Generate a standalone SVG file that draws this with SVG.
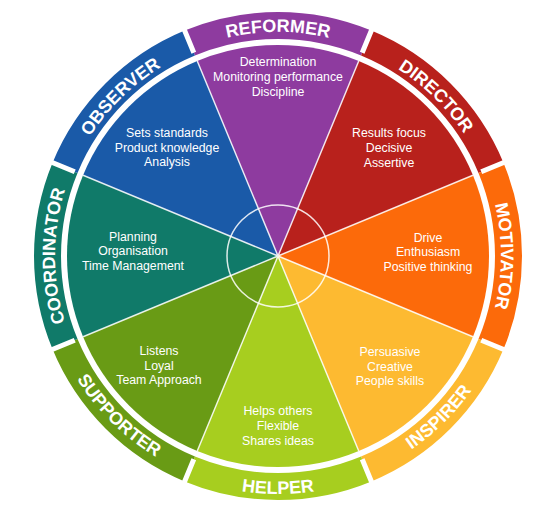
<svg xmlns="http://www.w3.org/2000/svg" width="537" height="519" viewBox="0 0 537 519">
  <style>
    .lbl { font-family: "Liberation Sans", Arial, sans-serif; font-size: 18px; font-weight: bold; fill: #ffffff; }
    .txt { font-family: "Liberation Sans", Arial, sans-serif; font-size: 12.3px; fill: #ffffff; text-anchor: middle; }
    .sep { stroke: #ffffff; stroke-width: 1.5; stroke-opacity: 0.85; fill: none; }
    .gap { stroke: #ffffff; stroke-width: 5; fill: none; }
  </style>
  <defs>
    <path id="p-reformer" d="M192.28 49.05 A223 223 0 0 1 363.72 49.05" transform="translate(0,0)"/>
    <path id="p-director" d="M360.47 50.02 A223 223 0 0 1 484.03 170.66"/>
    <path id="p-motivator" d="M484.03 170.66 A223 223 0 0 1 484.03 341.34"/>
    <path id="p-inspirer" d="M367.78 473.11 A238 238 0 0 0 495.89 347.08"/>
    <path id="p-helper" d="M186.92 475.89 A238 238 0 0 0 369.08 475.89"/>
    <path id="p-supporter" d="M60.11 347.08 A238 238 0 0 0 188.22 473.11"/>
    <path id="p-coordinator" d="M71.97 341.34 A223 223 0 0 1 71.97 170.66"/>
    <path id="p-observer" d="M71.97 170.66 A223 223 0 0 1 195.53 50.02"/>
  </defs>
  <rect width="537" height="519" fill="#ffffff"/>

  <g id="reformer">
    <path d="M278 256 L197.25 61.06 A211 211 0 0 1 358.75 61.06 Z" fill="#8E3B9F"/>
    <path d="M184.63 30.57 A244 244 0 0 1 371.37 30.57 L361.04 55.52 A217 217 0 0 0 194.96 55.52 Z" fill="#8E3B9F"/>
    <text class="lbl"><textPath href="#p-reformer" startOffset="50%" text-anchor="middle">REFORMER</textPath></text>
    <text class="txt" x="278" y="66">Determination</text>
    <text class="txt" x="278" y="81">Monitoring performance</text>
    <text class="txt" x="278" y="96">Discipline</text>
  </g>
  <g id="director">
    <path d="M278 256 L358.75 61.06 A211 211 0 0 1 472.94 175.25 Z" fill="#B8211C"/>
    <path d="M371.37 30.57 A244 244 0 0 1 503.43 162.63 L478.48 172.96 A217 217 0 0 0 361.04 55.52 Z" fill="#B8211C"/>
    <text class="lbl"><textPath href="#p-director" startOffset="50%" text-anchor="middle">DIRECTOR</textPath></text>
    <text class="txt" x="389" y="136.5">Results focus</text>
    <text class="txt" x="389" y="151.5">Decisive</text>
    <text class="txt" x="389" y="166.5">Assertive</text>
  </g>
  <g id="motivator">
    <path d="M278 256 L472.94 175.25 A211 211 0 0 1 472.94 336.75 Z" fill="#FC6A0A"/>
    <path d="M503.43 162.63 A244 244 0 0 1 503.43 349.37 L478.48 339.04 A217 217 0 0 0 478.48 172.96 Z" fill="#FC6A0A"/>
    <text class="lbl"><textPath href="#p-motivator" startOffset="50%" text-anchor="middle">MOTIVATOR</textPath></text>
    <text class="txt" x="428" y="241.5">Drive</text>
    <text class="txt" x="428" y="256">Enthusiasm</text>
    <text class="txt" x="428" y="270.5">Positive thinking</text>
  </g>
  <g id="inspirer">
    <path d="M278 256 L472.94 336.75 A211 211 0 0 1 358.75 450.94 Z" fill="#FDBA31"/>
    <path d="M503.43 349.37 A244 244 0 0 1 371.37 481.43 L361.04 456.48 A217 217 0 0 0 478.48 339.04 Z" fill="#FDBA31"/>
    <text class="lbl"><textPath href="#p-inspirer" startOffset="50%" text-anchor="middle">INSPIRER</textPath></text>
    <text class="txt" x="390" y="355.5">Persuasive</text>
    <text class="txt" x="390" y="370.5">Creative</text>
    <text class="txt" x="390" y="385">People skills</text>
  </g>
  <g id="helper">
    <path d="M278 256 L358.75 450.94 A211 211 0 0 1 197.25 450.94 Z" fill="#A7CE1F"/>
    <path d="M371.37 481.43 A244 244 0 0 1 184.63 481.43 L194.96 456.48 A217 217 0 0 0 361.04 456.48 Z" fill="#A7CE1F"/>
    <text class="lbl"><textPath href="#p-helper" startOffset="50%" text-anchor="middle">HELPER</textPath></text>
    <text class="txt" x="278" y="414.5">Helps others</text>
    <text class="txt" x="278" y="429.5">Flexible</text>
    <text class="txt" x="278" y="444.5">Shares ideas</text>
  </g>
  <g id="supporter">
    <path d="M278 256 L197.25 450.94 A211 211 0 0 1 83.06 336.75 Z" fill="#699B15"/>
    <path d="M184.63 481.43 A244 244 0 0 1 52.57 349.37 L77.52 339.04 A217 217 0 0 0 194.96 456.48 Z" fill="#699B15"/>
    <text class="lbl"><textPath href="#p-supporter" startOffset="50%" text-anchor="middle">SUPPORTER</textPath></text>
    <text class="txt" x="159" y="354.5">Listens</text>
    <text class="txt" x="159" y="369.5">Loyal</text>
    <text class="txt" x="159" y="384">Team Approach</text>
  </g>
  <g id="coordinator">
    <path d="M278 256 L83.06 336.75 A211 211 0 0 1 83.06 175.25 Z" fill="#107A69"/>
    <path d="M52.57 349.37 A244 244 0 0 1 52.57 162.63 L77.52 172.96 A217 217 0 0 0 77.52 339.04 Z" fill="#107A69"/>
    <text class="lbl"><textPath href="#p-coordinator" startOffset="50%" text-anchor="middle">COORDINATOR</textPath></text>
    <text class="txt" x="133" y="240.5">Planning</text>
    <text class="txt" x="133" y="255">Organisation</text>
    <text class="txt" x="133" y="269.5">Time Management</text>
  </g>
  <g id="observer">
    <path d="M278 256 L83.06 175.25 A211 211 0 0 1 197.25 61.06 Z" fill="#1A5AA8"/>
    <path d="M52.57 162.63 A244 244 0 0 1 184.63 30.57 L194.96 55.52 A217 217 0 0 0 77.52 172.96 Z" fill="#1A5AA8"/>
    <text class="lbl"><textPath href="#p-observer" startOffset="50%" text-anchor="middle">OBSERVER</textPath></text>
    <text class="txt" x="167" y="136.5">Sets standards</text>
    <text class="txt" x="167" y="151.5">Product knowledge</text>
    <text class="txt" x="167" y="166">Analysis</text>
  </g>

  <g id="connectors">
    <path class="sep" d="M278 256 L197.25 61.06 M278 256 L358.75 61.06 M278 256 L472.94 175.25 M278 256 L472.94 336.75 M278 256 L358.75 450.94 M278 256 L197.25 450.94 M278 256 L83.06 336.75 M278 256 L83.06 175.25"/>
    <circle class="sep" cx="278" cy="256" r="51"/>
    <path class="gap" d="M193.81 52.75 L183.48 27.80 M362.19 52.75 L372.52 27.80 M481.25 171.81 L506.20 161.48 M481.25 340.19 L506.20 350.52 M362.19 459.25 L372.52 484.20 M193.81 459.25 L183.48 484.20 M74.75 340.19 L49.80 350.52 M74.75 171.81 L49.80 161.48"/>
  </g>
</svg>
